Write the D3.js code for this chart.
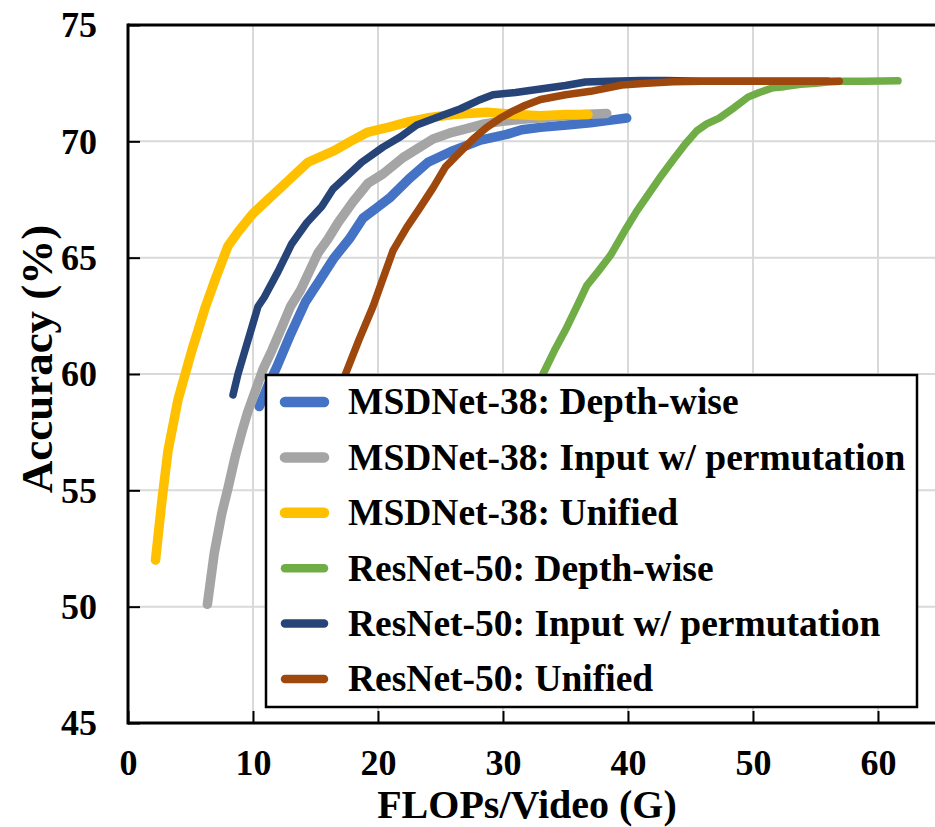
<!DOCTYPE html>
<html><head><meta charset="utf-8">
<script src="https://cdn.jsdelivr.net/npm/d3@7"></script>
<style>
body{margin:0;background:#fff}
svg{display:block}
text{font-family:"Liberation Serif","Times New Roman",serif;font-weight:bold;fill:#000}
</style>
</head><body>
<svg id="chart" width="935" height="827"></svg>
<script>
// ---- data ----
const seriesNames = [
  "MSDNet-38: Depth-wise",
  "MSDNet-38: Input w/ permutation",
  "MSDNet-38: Unified",
  "ResNet-50: Depth-wise",
  "ResNet-50: Input w/ permutation",
  "ResNet-50: Unified"
];
const seriesColors = ["#4472C4", "#A5A5A5", "#FFC000", "#70AD47", "#264478", "#9E480E"];

const msdDepthX = [10.5, 11.2, 11.9, 13.0, 14.2, 15.3, 16.5, 17.7, 18.8, 19.8, 21.0, 22.5, 24.0, 25.8, 28.2, 30.3, 31.5, 33.0, 35.1, 37.0, 38.5, 39.9];
const msdDepthY = [58.6, 59.5, 60.3, 61.7, 63.1, 64.0, 65.0, 65.8, 66.7, 67.1, 67.6, 68.4, 69.1, 69.55, 70.05, 70.3, 70.5, 70.6, 70.7, 70.8, 70.9, 71.0];

const msdInputX = [6.35, 6.9, 7.5, 8.0, 8.6, 9.1, 9.6, 10.2, 10.8, 11.5, 12.3, 13.0, 13.8, 15.2, 16.0, 16.8, 18.0, 19.2, 20.4, 22.0, 24.4, 25.7, 27.1, 28.5, 29.8, 31.5, 33.0, 35.0, 36.5, 38.3];
const msdInputY = [50.1, 52.3, 54.0, 55.1, 56.5, 57.5, 58.4, 59.3, 60.2, 61.0, 62.0, 62.9, 63.6, 65.2, 65.8, 66.5, 67.4, 68.2, 68.6, 69.3, 70.1, 70.35, 70.55, 70.75, 70.85, 70.95, 71.0, 71.1, 71.15, 71.2];

const msdUnifiedX = [2.2, 2.7, 3.2, 4.0, 5.1, 6.2, 7.0, 8.0, 8.8, 10.0, 11.2, 12.8, 14.4, 16.5, 17.8, 19.2, 20.8, 22.5, 23.9, 26.0, 28.7, 31.0, 33.0, 35.0, 36.8];
const msdUnifiedY = [52.0, 54.5, 56.7, 58.9, 61.0, 62.9, 64.1, 65.5, 66.1, 66.9, 67.5, 68.3, 69.1, 69.6, 70.0, 70.4, 70.6, 70.85, 71.0, 71.15, 71.25, 71.15, 71.1, 71.15, 71.15];

const resDepthX = [31.5, 33.2, 34.2, 35.1, 36.0, 36.7, 37.6, 38.6, 39.9, 40.7, 41.6, 42.5, 43.6, 44.6, 45.5, 46.3, 47.3, 48.5, 49.6, 50.5, 51.6, 52.5, 53.8, 55.0, 56.0, 57.0, 59.0, 61.6];
const resDepthY = [57.0, 60.0, 61.1, 62.0, 63.0, 63.8, 64.4, 65.1, 66.3, 67.0, 67.7, 68.4, 69.2, 69.9, 70.45, 70.75, 71.0, 71.45, 71.9, 72.1, 72.3, 72.35, 72.45, 72.5, 72.55, 72.58, 72.58, 72.6];

const resInputX = [8.4, 8.8, 9.6, 10.4, 10.9, 12.0, 13.1, 14.3, 15.5, 16.4, 17.5, 18.7, 20.4, 21.8, 23.1, 24.8, 26.6, 28.0, 29.2, 31.0, 33.0, 35.0, 36.6, 38.5, 41.0, 43.0, 46.0, 50.0, 54.0, 56.0];
const resInputY = [59.1, 60.0, 61.45, 62.9, 63.3, 64.4, 65.6, 66.5, 67.2, 67.95, 68.5, 69.1, 69.75, 70.2, 70.7, 71.05, 71.4, 71.75, 72.0, 72.1, 72.25, 72.4, 72.55, 72.58, 72.62, 72.62, 72.58, 72.58, 72.58, 72.58];

const resUnifiedX = [16.6, 17.4, 18.5, 19.6, 20.4, 21.2, 22.3, 23.3, 24.4, 25.4, 26.5, 27.6, 28.7, 29.8, 30.8, 31.8, 33.0, 35.0, 37.0, 39.5, 41.5, 43.6, 46.0, 50.0, 54.0, 56.9];
const resUnifiedY = [58.2, 60.0, 61.5, 62.9, 64.1, 65.3, 66.3, 67.1, 68.0, 68.9, 69.5, 70.1, 70.6, 71.0, 71.3, 71.55, 71.8, 72.0, 72.15, 72.42, 72.5, 72.56, 72.58, 72.58, 72.58, 72.58];

const xTicks = [0, 10, 20, 30, 40, 50, 60];
const yTicks = [45, 50, 55, 60, 65, 70, 75];
const xTitle = "FLOPs/Video (G)";
const yTitle = "Accuracy (%)";

// ---- build ----
const seriesX = [msdDepthX, msdInputX, msdUnifiedX, resDepthX, resInputX, resUnifiedX];
const seriesY = [msdDepthY, msdInputY, msdUnifiedY, resDepthY, resInputY, resUnifiedY];
const seriesWidths = [9.5, 9.5, 9.5, 7.5, 7.5, 7.5];
const series = seriesNames.map((name, i) => ({
  name, color: seriesColors[i], width: seriesWidths[i],
  points: seriesX[i].map((xv, j) => [xv, seriesY[i][j]])
}));

const svg = d3.select("#chart");
const pLeft = 128, pRight = 1003, pTop = 25, pBottom = 723;
const xs = d3.scaleLinear().domain([0, 70]).range([pLeft, pRight]);
const ys = d3.scaleLinear().domain([45, 75]).range([pBottom, pTop]);
const W = 935;

// grid
const grid = svg.append("g");
grid.selectAll("line.v").data(xTicks.filter(d => d > 0)).join("line")
  .attr("x1", d => xs(d)).attr("x2", d => xs(d)).attr("y1", pTop).attr("y2", pBottom)
  .attr("stroke", "#d9d9d9").attr("stroke-width", 2);
grid.selectAll("line.h").data(yTicks.filter(d => d > 45 && d < 75)).join("line")
  .attr("x1", pLeft).attr("x2", W).attr("y1", d => ys(d)).attr("y2", d => ys(d))
  .attr("stroke", "#d9d9d9").attr("stroke-width", 2);

// axes
const xAxis = d3.axisBottom(xs).tickValues(xTicks).tickSizeInner(-12).tickSizeOuter(0).tickPadding(26);
const gx = svg.append("g").attr("transform", `translate(0,${pBottom})`).call(xAxis);
gx.select(".domain").remove();
gx.selectAll(".tick line").attr("stroke", "#000").attr("stroke-width", 2);
gx.selectAll(".tick text").attr("font-size", 36).attr("font-family", "Liberation Serif").attr("font-weight", "bold").attr("fill", "#000");

const yAxis = d3.axisLeft(ys).tickValues(yTicks).tickSizeInner(-12).tickSizeOuter(0).tickPadding(31);
const gy = svg.append("g").attr("transform", `translate(${pLeft},0)`).call(yAxis);
gy.select(".domain").remove();
gy.selectAll(".tick line").attr("stroke", "#000").attr("stroke-width", 2);
gy.selectAll(".tick text").attr("font-size", 36).attr("font-family", "Liberation Serif").attr("font-weight", "bold").attr("fill", "#000").attr("dy", "0.33em");

// frame lines
svg.append("line").attr("x1", pLeft).attr("x2", W).attr("y1", pBottom).attr("y2", pBottom).attr("stroke", "#000").attr("stroke-width", 3);
svg.append("line").attr("x1", pLeft).attr("x2", W).attr("y1", pTop).attr("y2", pTop).attr("stroke", "#000").attr("stroke-width", 3);
svg.append("line").attr("x1", pLeft).attr("x2", pLeft).attr("y1", pTop - 1.5).attr("y2", pBottom + 1.5).attr("stroke", "#000").attr("stroke-width", 3);

// lines
const line = d3.line().x(d => xs(d[0])).y(d => ys(d[1])).curve(d3.curveLinear);
svg.append("g").selectAll("path").data(series).join("path")
  .attr("d", d => line(d.points))
  .attr("fill", "none").attr("stroke", d => d.color).attr("stroke-width", d => d.width)
  .attr("stroke-linecap", "round").attr("stroke-linejoin", "round");

// titles
svg.append("text").attr("x", 527).attr("y", 818).attr("text-anchor", "middle").attr("font-size", 40).text(xTitle);
svg.append("text").attr("transform", "translate(52,359) rotate(-90)").attr("text-anchor", "middle").attr("font-size", 45).text(yTitle);

// legend
const lg = svg.append("g");
lg.append("rect").attr("x", 266).attr("y", 375).attr("width", 651).attr("height", 332)
  .attr("fill", "#fff").attr("stroke", "#000").attr("stroke-width", 2.5);
const rowY = d3.scaleLinear().domain([0, 5]).range([402, 679]);
const items = lg.selectAll("g.item").data(series).join("g").attr("transform", (d, i) => `translate(0,${rowY(i)})`);
items.append("line").attr("x1", 285).attr("x2", 324).attr("y1", 0).attr("y2", 0)
  .attr("stroke", d => d.color).attr("stroke-width", d => d.width + 1).attr("stroke-linecap", "round");
items.append("text").attr("x", 348).attr("y", 0).attr("dy", "0.33em").attr("font-size", 37.5).text(d => d.name);
</script>
</body></html>
